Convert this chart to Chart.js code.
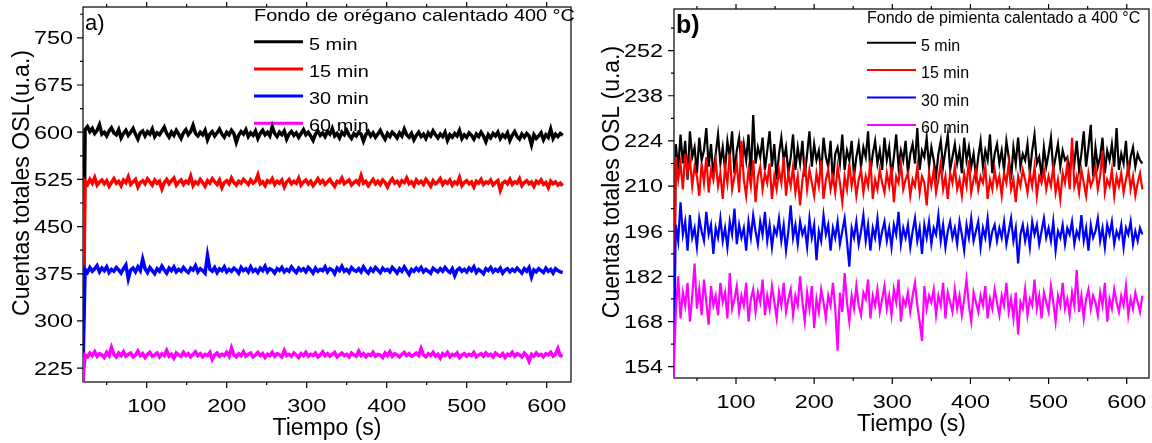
<!DOCTYPE html>
<html>
<head>
<meta charset="utf-8">
<script src="https://cdn.jsdelivr.net/npm/chart.js@4.4.1/dist/chart.umd.min.js"></script>
<style>
  body { margin: 0; background: #fff; }
  canvas { position: absolute; top: 0; }
  #chartA { left: 0; }
  #chartB { left: 576px; }
</style>
</head>
<body>
<canvas id="chartA" width="576" height="443"></canvas>
<canvas id="chartB" width="576" height="443"></canvas>
<script>
// sampling of the readings: first at 20 s, one every 3 s
const T0 = 20, DT = 3

const seriesNames = ['5 min', '15 min', '30 min', '60 min']
const seriesColors = ['#000000', '#ff0000', '#0000ff', '#ff00ff']
const timeTicks = [100, 200, 300, 400, 500, 600]

// a) oregano background
const oregano5 = [
    195, 604, 609, 601, 606, 598, 603, 612, 597, 600,
    594, 602, 607, 599, 596, 604, 591, 598, 603, 595,
    600, 606, 597, 589, 599, 602, 594, 601, 597, 605,
    593, 599, 596, 602, 608, 598, 592, 600, 595, 603,
    597, 590, 599, 604, 596, 601, 611, 598, 594, 600,
    596, 603, 588, 597, 601, 594, 599, 605, 597, 592,
    600, 596, 603, 598, 584, 595, 601, 597, 604, 593,
    599, 595, 602, 590, 598, 603, 596, 600, 594, 609,
    598, 593, 600, 596, 602, 589, 597, 601, 595, 599,
    592, 598, 604, 596, 600, 594, 587, 597, 602, 595,
    599, 593, 601, 597, 606, 594, 598, 591, 600, 596,
    603, 595, 590, 598, 594, 600, 597, 586, 596, 601,
    594, 599, 592, 597, 603, 595, 589, 598, 593, 600,
    596, 591, 599, 594, 605, 596, 592, 598, 588, 595,
    600, 593, 597, 590, 599, 594, 602, 596, 591, 597,
    593, 600, 587, 596, 592, 598, 594, 603, 590, 596,
    592, 599, 595, 589, 597, 593, 600, 594, 585, 596,
    591, 598, 594, 600, 590, 596, 592, 599, 587, 595,
    601, 593, 589, 597, 592, 598, 594, 580, 596, 590,
    594, 599, 588, 596, 592, 605, 590, 597, 593, 598,
    595]
const oregano15 = [
    200, 522, 517, 525, 519, 528, 516, 521, 524, 518,
    523, 514, 520, 526, 519, 522, 515, 524, 520, 529,
    517, 521, 525, 513, 520, 523, 518, 526, 521, 516,
    524, 519, 522, 510, 520, 525, 518, 523, 527, 516,
    521, 524, 517, 522, 519, 530, 515, 521, 518, 525,
    520, 514, 523, 519, 526, 521, 517, 524, 512, 520,
    523, 518, 527, 520, 516, 522, 519, 525, 521, 517,
    524, 519, 522, 532, 518, 521, 515, 523, 520, 526,
    517, 522, 519, 524, 513, 521, 525, 518, 522, 519,
    527, 516, 521, 524, 518, 522, 515, 520, 526, 519,
    523, 517, 521, 525, 519, 514, 522, 520, 527, 518,
    521, 524, 516, 520, 523, 518, 531, 519, 522, 515,
    520, 525, 518, 522, 517, 524, 520, 513, 521, 526,
    519, 522, 516, 523, 520, 527, 518, 521, 515, 524,
    519, 522, 517, 525, 520, 514, 523, 518, 521, 526,
    517, 522, 519, 524, 516, 521, 518, 528, 515, 520,
    523, 518, 521, 513, 522, 519, 525, 517, 521, 519,
    524, 516, 520, 523, 508, 519, 522, 518, 525, 517,
    521, 519, 526, 515, 520, 523, 518, 521, 514, 522,
    519, 524, 517, 520, 512, 522, 518, 521, 516, 519,
    515]
const oregano30 = [
    205, 382, 377, 385, 379, 383, 388, 378, 384, 380,
    386, 377, 382, 379, 385, 381, 376, 383, 389, 367,
    381, 384, 378, 386, 380, 398, 383, 377, 385, 380,
    375, 383, 379, 387, 381, 376, 384, 380, 386, 378,
    382, 379, 385, 380, 377, 384, 381, 388, 378, 383,
    380, 376, 404, 382, 379, 385, 377, 383, 380, 386,
    378, 382, 379, 384, 381, 376, 385, 380, 383, 378,
    386, 379, 382, 377, 384, 380, 387, 378, 383, 381,
    376, 383, 380, 385, 378, 382, 379, 386, 381, 377,
    384, 380, 383, 378, 385, 381, 376, 384, 379, 382,
    380, 386, 378, 383, 381, 375, 384, 380, 387, 379,
    382, 377, 385, 381, 379, 383, 378, 386, 380, 376,
    383, 379, 385, 381, 377, 384, 380, 382, 378, 385,
    381, 376, 383, 379, 386, 380, 374, 382, 379, 384,
    380, 385, 378, 382, 379, 376, 384, 381, 378, 383,
    379, 385, 380, 377, 383, 372, 381, 384, 379, 382,
    378, 384, 380, 386, 377, 382, 379, 375, 383, 380,
    385, 378, 382, 379, 384, 376, 381, 383, 378, 382,
    379, 384, 380, 376, 383, 379, 385, 370, 381, 378,
    383, 380, 377, 384, 379, 382, 376, 383, 380, 378,
    377]
const oregano60 = [
    201, 246, 243, 249, 245, 251, 244, 248, 246, 242,
    250, 245, 258, 247, 243, 249, 245, 251, 244, 247,
    249, 243, 246, 252, 245, 248, 242, 247, 250, 244,
    246, 249, 243, 248, 245, 253, 244, 247, 241, 249,
    246, 244, 250, 245, 248, 243, 247, 251, 245, 248,
    243, 247, 245, 250, 239, 246, 249, 244, 247, 245,
    250, 244, 257, 246, 243, 248, 245, 251, 244, 247,
    249, 243, 246, 250, 245, 248, 242, 247, 245, 250,
    244, 248, 246, 243, 253, 245, 247, 244, 249, 246,
    242, 248, 245, 250, 244, 247, 245, 249, 243, 246,
    251, 245, 248, 244, 247, 250, 243, 246, 249, 245,
    247, 243, 249, 246, 244, 252, 245, 248, 243, 247,
    245, 250, 244, 247, 246, 242, 249, 245, 251, 244,
    248, 246, 243, 247, 250, 245, 248, 244, 246, 249,
    245, 256, 246, 243, 248, 245, 250, 244, 247, 241,
    248, 245, 250, 243, 247, 245, 249, 242, 246, 248,
    244, 247, 245, 250, 243, 246, 248, 244, 249, 245,
    247, 243, 249, 246, 244, 248, 242, 247, 245, 250,
    244, 248, 246, 243, 249, 245, 236, 247, 244, 249,
    245, 247, 243, 248, 246, 250, 244, 247, 256, 245,
    244]
const oreganoYTicks = [225, 300, 375, 450, 525, 600, 675, 750]

// b) pepper background
const pimienta5 = [
    150, 223, 215, 226, 217, 224, 212, 227, 219, 222,
    214, 225, 218, 221, 228, 216, 223, 213, 220, 226,
    217, 222, 215, 224, 219, 227, 214, 221, 225, 216,
    223, 218, 226, 213, 232, 217, 222, 219, 225, 215,
    221, 227, 216, 223, 212, 220, 225, 218, 222, 214,
    219, 226, 215, 222, 217, 224, 213, 220, 227, 216,
    223, 218, 221, 214, 225, 219, 216, 224, 211, 220,
    222, 217, 226, 215, 221, 218, 224, 213, 219, 223,
    216, 222, 219, 227, 214, 220, 224, 217, 221, 215,
    225, 218, 222, 213, 219, 226, 216, 221, 218, 224,
    214, 220, 223, 217, 228, 215, 221, 219, 225, 216,
    222, 218, 213, 220, 224, 216, 221, 226, 215, 219,
    223, 217, 221, 214, 225, 218, 222, 216, 220, 213,
    219, 224, 216, 221, 218, 226, 214, 220, 223, 217,
    221, 215, 224, 219, 212, 222, 217, 225, 216, 220,
    218, 223, 214, 221, 226, 217, 219, 213, 222, 216,
    220, 225, 215, 219, 223, 216, 221, 218, 219, 214,
    221, 217, 224, 215, 220, 227, 216, 222, 229, 213,
    222, 216, 219, 225, 214, 221, 218, 223, 216, 228,
    215, 220, 217, 224, 213, 219, 222, 216, 220, 218,
    217]
const pimienta15 = [
    150, 219, 212, 217, 209, 220, 214, 218, 210, 216,
    213, 207, 217, 211, 219, 208, 215, 212, 218, 210,
    214, 206, 216, 211, 220, 209, 213, 217, 208, 224,
    212, 207, 215, 210, 218, 205, 213, 216, 209, 214,
    211, 217, 206, 213, 209, 215, 211, 219, 207, 214,
    210, 216, 208, 213, 204, 212, 217, 209, 215, 211,
    207, 214, 210, 218, 206, 212, 215, 209, 213, 208,
    216, 211, 205, 213, 209, 217, 210, 214, 207, 212,
    215, 208, 213, 210, 218, 206, 212, 209, 215, 211,
    208, 214, 210, 216, 205, 213, 211, 217, 209, 212,
    214, 207, 212, 210, 216, 208, 213, 211, 204, 214,
    210, 215, 208, 212, 217, 209, 213, 206, 214, 211,
    216, 209, 212, 207, 214, 210, 218, 208, 212, 215,
    209, 213, 211, 216, 206, 212, 209, 215, 210, 213,
    207, 214, 211, 217, 209, 212, 205, 213, 210, 215,
    212, 208, 214, 210, 216, 207, 213, 211, 215, 209,
    213, 210, 216, 208, 212, 206, 214, 211, 217, 209,
    225, 210, 213, 208, 215, 211, 207, 214, 210, 212,
    216, 209, 213, 221, 208, 212, 210, 215, 207, 213,
    210, 214, 208, 212, 216, 209, 213, 207, 211, 214,
    209]
const pimienta30 = [
    150, 198, 193, 205, 195, 199, 190, 201, 194, 197,
    191, 200, 196, 193, 202, 195, 198, 189, 197, 194,
    200, 193, 197, 191, 199, 195, 203, 192, 198, 194,
    197, 190, 199, 194, 201, 196, 192, 199, 195, 202,
    193, 198, 191, 197, 195, 200, 193, 198, 190, 196,
    204, 194, 198, 192, 199, 195, 197, 191, 200, 194,
    198, 187, 196, 193, 201, 195, 198, 190, 197, 194,
    199, 192, 196, 200, 193, 185, 197, 194, 199, 192,
    196, 201, 193, 198, 190, 197, 194, 200, 192, 196,
    199, 193, 197, 191, 198, 195, 202, 192, 197, 194,
    198, 191, 196, 200, 193, 197, 189, 198, 194, 199,
    192, 197, 195, 201, 193, 198, 191, 196, 199, 194,
    197, 192, 199, 195, 190, 198, 194, 200, 193, 196,
    199, 191, 197, 194, 200, 192, 196, 198, 193, 197,
    194, 199, 192, 196, 200, 193, 197, 186, 195, 198,
    193, 197, 191, 199, 195, 198, 192, 196, 200, 194,
    197, 193, 199, 190, 196, 194, 198, 192, 197, 195,
    199, 192, 196, 194, 201, 193, 197, 190, 198, 194,
    196, 200, 193, 197, 191, 198, 195, 199, 192, 196,
    194, 198, 191, 197, 195, 199, 192, 196, 193, 197,
    195]
const pimienta60 = [
    150, 171, 182, 169, 177, 173, 180, 168, 176, 186,
    172, 178, 170, 181, 174, 167, 179, 173, 176, 170,
    180, 174, 177, 169, 183, 172, 175, 179, 171, 176,
    173, 180, 168, 175, 178, 171, 177, 174, 181, 170,
    176, 172, 179, 174, 169, 177, 173, 180, 171, 175,
    178, 170, 176, 173, 182, 174, 168, 177, 172, 179,
    166, 175, 171, 178, 174, 169, 176, 173, 180, 172,
    159, 177, 171, 183, 174, 168, 176, 172, 179, 173,
    170, 177, 175, 181, 169, 176, 173, 178, 171, 175,
    179, 172, 176, 170, 178, 174, 181, 168, 175, 173,
    177, 171, 176, 180, 173, 168, 162, 179, 172, 176,
    174, 178, 170, 176, 173, 180, 169, 177, 174, 171,
    178, 172, 176, 170, 175, 181, 173, 168, 177, 174,
    171, 176, 173, 179, 169, 175, 172, 178, 174, 170,
    176, 173, 180, 171, 175, 169, 177, 164, 174, 172,
    178, 170, 175, 173, 181, 172, 176, 169, 177, 174,
    171, 179, 174, 168, 176, 173, 180, 172, 175, 170,
    177, 173, 184, 171, 176, 169, 175, 178, 172, 176,
    174, 170, 177, 173, 180, 168, 175, 172, 178, 174,
    171, 176, 173, 179, 170, 175, 172, 177, 174, 171,
    176]
const pimientaYTicks = [154, 168, 182, 196, 210, 224, 238, 252]

const FONT = '"Liberation Sans", Arial, sans-serif'

// text squeezed/stretched along x only
function wideText(ctx, text, x, y, sx, align) {
    ctx.save()
    ctx.translate(x, y)
    ctx.scale(sx, 1)
    ctx.textAlign = align
    ctx.fillText(text, 0, 0)
    ctx.restore()
}

// box, ticks, labels and legend are painted by hand under the traces
function framePlugin(p) {
    return {
        id: 'frame',
        beforeDatasetsDraw(chart) {
            const ctx = chart.ctx
            const a = chart.chartArea
            const x = chart.scales.x
            const y = chart.scales.y

            ctx.save()
            ctx.strokeStyle = '#000'
            ctx.lineWidth = 1.2
            ctx.strokeRect(a.left, a.top, a.right - a.left, a.bottom - a.top)

            ctx.beginPath()
            const yStep = p.yTicks[1] - p.yTicks[0]
            for (const v of p.yTicks) {
                const py = y.getPixelForValue(v)
                ctx.moveTo(a.left - 6, py); ctx.lineTo(a.left, py)
            }
            for (let v = p.yTicks[0] - yStep / 2; v <= y.max; v += yStep) {
                if (v < y.min) continue
                const py = y.getPixelForValue(v)
                ctx.moveTo(a.left - 3, py); ctx.lineTo(a.left, py)
            }
            for (let v = 50; v <= x.max; v += 50) {
                const px = x.getPixelForValue(v)
                const major = v % 100 === 0
                ctx.moveTo(px, a.bottom); ctx.lineTo(px, a.bottom + (major ? 6 : 3))
                ctx.moveTo(px, a.top); ctx.lineTo(px, a.top - (major ? 5 : 3))
            }
            ctx.stroke()

            ctx.fillStyle = '#000'
            ctx.textBaseline = 'alphabetic'
            ctx.font = '18px ' + FONT
            for (const v of p.yTicks) {
                wideText(ctx, String(v), a.left - p.yLabelGap, y.getPixelForValue(v) + 6.4, 1.3, 'right')
            }
            for (const v of timeTicks) {
                wideText(ctx, String(v), x.getPixelForValue(v), a.bottom + 30, 1.3, 'center')
            }

            ctx.font = '23px ' + FONT
            ctx.textAlign = 'center'
            ctx.fillText('Tiempo (s)', (a.left + a.right) / 2, a.bottom + 53)
            ctx.save()
            ctx.translate(p.yTitleX, p.yTitleY)
            ctx.rotate(-Math.PI / 2)
            ctx.fillText(p.yTitle, 0, 0)
            ctx.restore()

            ctx.font = p.tagFont
            ctx.textAlign = 'left'
            ctx.fillText(p.tag, a.left + 2, p.tagY)

            // legend
            const lg = p.legend
            ctx.font = lg.size + 'px ' + FONT
            wideText(ctx, p.legendTitle, lg.x, lg.titleY, lg.sx, 'left')
            seriesNames.forEach((name, i) => {
                const ly = lg.y0 + i * lg.dy
                ctx.strokeStyle = seriesColors[i]
                ctx.lineWidth = lg.lineWidth
                ctx.beginPath()
                ctx.moveTo(lg.x, ly); ctx.lineTo(lg.x + 49, ly)
                ctx.stroke()
                wideText(ctx, name, lg.textX, ly + 8, lg.sx, 'left')
            })
            ctx.restore()
        }
    }
}

function panel(canvasId, p) {
    const datasets = p.series.map((vals, i) => ({
        label: seriesNames[i],
        data: vals.map((v, k) => ({x: T0 + k * DT, y: v})),
        borderColor: seriesColors[i],
        borderWidth: p.lineWidth,
        pointRadius: 0,
        tension: 0,
        order: 4 - i
    }))

    new Chart(document.getElementById(canvasId), {
        type: 'line',
        data: { datasets: datasets },
        options: {
            responsive: false,
            animation: false,
            layout: { padding: p.pad },
            scales: {
                x: { type: 'linear', display: false, min: p.xMin, max: p.xMax },
                y: { display: false, min: p.yMin, max: p.yMax }
            },
            plugins: { legend: { display: false }, tooltip: { enabled: false } }
        },
        plugins: [framePlugin(p)]
    })
}

panel('chartA', {
    series: [oregano5, oregano15, oregano30, oregano60],
    lineWidth: 3.5,
    pad: { left: 83, right: 5, top: 7, bottom: 61 },
    xMin: 20.4, xMax: 630.4, yMin: 203, yMax: 799,
    yTicks: oreganoYTicks,
    yLabelGap: 10,
    yTitle: 'Cuentas totales OSL(u.a.)',
    yTitleX: 28.5, yTitleY: 183,
    tag: 'a)', tagFont: '22px ' + FONT, tagY: 29.5,
    legendTitle: 'Fondo de orégano calentado 400 °C',
    legend: { x: 254, textX: 309, titleY: 20.7, y0: 41.7, dy: 27.2, size: 17, sx: 1.17, lineWidth: 3 }
})

panel('chartB', {
    series: [pimienta5, pimienta15, pimienta30, pimienta60],
    lineWidth: 2.2,
    pad: { left: 98, right: 3, top: 9, bottom: 65 },
    xMin: 20.65, xMax: 628.5, yMin: 150.5, yMax: 264.9,
    yTicks: pimientaYTicks,
    yLabelGap: 11,
    yTitle: 'Cuentas totales OSL (u.a.)',
    yTitleX: 43.3, yTitleY: 182,
    tag: 'b)', tagFont: 'bold 25px ' + FONT, tagY: 33,
    legendTitle: 'Fondo de pimienta calentado a 400 °C',
    legend: { x: 291, textX: 345, titleY: 22.7, y0: 42.7, dy: 27.4, size: 16, sx: 1, lineWidth: 2 }
})
</script>
</body>
</html>
